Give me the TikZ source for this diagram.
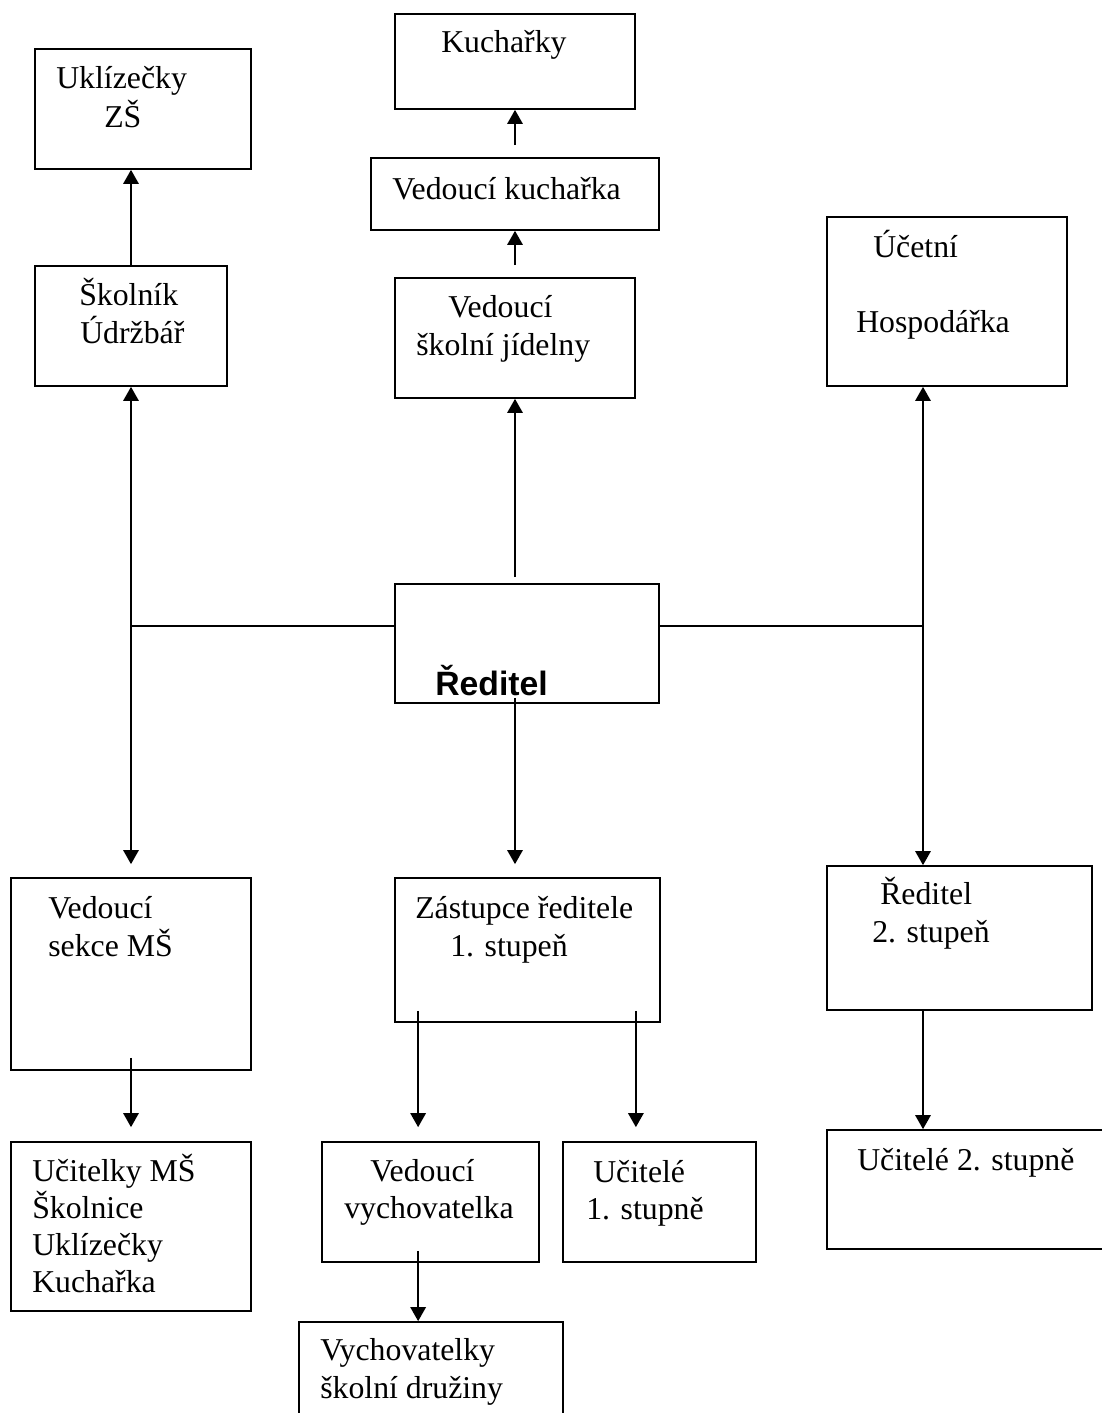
\documentclass[tikz,border=0pt]{standalone}
\usepackage{fontspec}
\setmainfont{Liberation Serif}
\newfontfamily\headfont{Liberation Sans}
\usetikzlibrary{arrows.meta,calc}

\tikzset{
  box/.style={draw, line width=1.2pt, inner sep=0pt},
  txt/.style={anchor=base west, inner sep=0pt, font=\fontsize{22.6}{27}\selectfont},
  ln/.style={line width=1.2pt},
  arr/.style={line width=1.2pt, -{Triangle[length=10pt,width=11pt]}}
}

\begin{document}
\begin{tikzpicture}[x=0.025cm,y=-0.025cm]
\useasboundingbox (0,0) rectangle (1102,1413);
\clip (0,0) rectangle (1102,1413);

\node[box, minimum width=5.4cm, minimum height=3cm] (ukl) at (143,109) {};
\node[box, minimum width=6cm, minimum height=2.375cm] (kuch) at (515,61.5) {};
\node[box, minimum width=7.2cm, minimum height=1.8cm] (vk) at (515,194) {};
\node[box, minimum width=4.8cm, minimum height=3cm] (skol) at (131,326) {};
\node[box, minimum width=6cm, minimum height=3cm] (vsj) at (515,338) {};
\node[box, minimum width=6cm, minimum height=4.225cm] (uc) at (947,301.5) {};
\node[box, minimum width=6.6cm, minimum height=2.975cm] (red) at (527,643.5) {};
\node[box, minimum width=6cm, minimum height=4.8cm] (vsm) at (131,974) {};
\node[box, minimum width=6.625cm, minimum height=3.6cm] (zas) at (527.5,950) {};
\node[box, minimum width=6.625cm, minimum height=3.6cm] (r2) at (959.5,938) {};
\node[box, minimum width=6cm, minimum height=4.225cm] (ums) at (131,1226.5) {};
\node[box, minimum width=5.425cm, minimum height=3cm] (vv) at (430.5,1202) {};
\node[box, minimum width=4.825cm, minimum height=3cm] (u1) at (659.5,1202) {};
\node[box, minimum width=7.325cm, minimum height=2.975cm] (u2) at (973.5,1189.5) {};
\node[box, minimum width=6.6cm, minimum height=2.95cm] (vys) at (431,1381) {};

\node[txt] (ukl1) at (56,89) {Uklízečky};
\node[txt] (ukl2) at (104,127) {ZŠ};
\node[txt] (kuch1) at (441,53) {Kuchařky};
\node[txt] (vk1) at (392,199) {Vedoucí kuchařka};
\node[txt] (skol1) at (79,305) {Školník};
\node[txt] (skol2) at (80,343) {Údržbář};
\node[txt] (vsj1) at (448,317) {Vedoucí};
\node[txt] (vsj2) at (416,355) {školní jídelny};
\node[txt] (uc1) at (873,257) {Účetní};
\node[txt] (uc2) at (856,332) {Hospodářka};
\node[txt, font=\headfont\bfseries\fontsize{24}{28}\selectfont] (red1) at (435,695) {Ředitel};
\node[txt] (vsm1) at (48,918) {Vedoucí};
\node[txt] (vsm2) at (48,956) {sekce MŠ};
\node[txt] (zas1) at (415,918) {Zástupce ředitele};
\node[txt] (zas2) at (450,956) {1. stupeň};
\node[txt] (r21) at (880,904) {Ředitel};
\node[txt] (r22) at (872,942) {2. stupeň};
\node[txt] (ums1) at (32,1181) {Učitelky MŠ};
\node[txt] (ums2) at (32,1218) {Školnice};
\node[txt] (ums3) at (32,1255) {Uklízečky};
\node[txt] (ums4) at (32,1292) {Kuchařka};
\node[txt] (vv1) at (370,1181) {Vedoucí};
\node[txt] (vv2) at (344,1218) {vychovatelka};
\node[txt] (u11) at (593,1182) {Učitelé};
\node[txt] (u12) at (586,1219) {1. stupně};
\node[txt] (u21) at (857,1170) {Učitelé 2. stupně};
\node[txt] (vys1) at (320,1360) {Vychovatelky};
\node[txt] (vys2) at (320,1398) {školní družiny};

\coordinate (jl) at (131,626);
\coordinate (jr) at (923,626);
\coordinate (rt) at (vsj.south |- red.north);
\coordinate (rb) at (vsj.south |- red.south);
\coordinate (zt) at (vsj.south |- zas.north);
\coordinate (zl) at ($(zas.south west)+(24,-12)$);
\coordinate (zr) at ($(zas.south east)+(-25,-12)$);
\coordinate (vb) at ($(vv.south west)+(97,-12)$);

\draw[arr] (skol.north) -- (skol.north |- ukl.south);
\draw[arr] ($(vk.north)+(0,-12)$) -- (kuch.south);
\draw[arr] ($(vsj.north)+(0,-12)$) -- (vk.south);
\draw[arr] ($(rt)+(0,-6)$) -- (vsj.south);
\draw[ln] (jl) -- (jl -| red.west);
\draw[ln] (red.east |- jr) -- (jr);
\draw[arr] (jl) -- (skol.south);
\draw[arr] (jl) -- ($(vsm.north)+(0,-13)$);
\draw[arr] (jr) -- (jr |- uc.south);
\draw[arr] (jr) -- (jr |- r2.north);
\draw[arr] ($(rb)+(0,-6)$) -- ($(zt)+(0,-13)$);
\draw[arr] (zl) -- ($(zl |- vv.north)+(0,-14)$);
\draw[arr] (zr) -- ($(zr |- u1.north)+(0,-14)$);
\draw[arr] ($(vsm.south)+(0,-13)$) -- ($(ums.north)+(0,-14)$);
\draw[arr] (jr |- r2.south) -- (jr |- u2.north);
\draw[arr] (vb) -- (vb |- vys.north);
\end{tikzpicture}
\end{document}
